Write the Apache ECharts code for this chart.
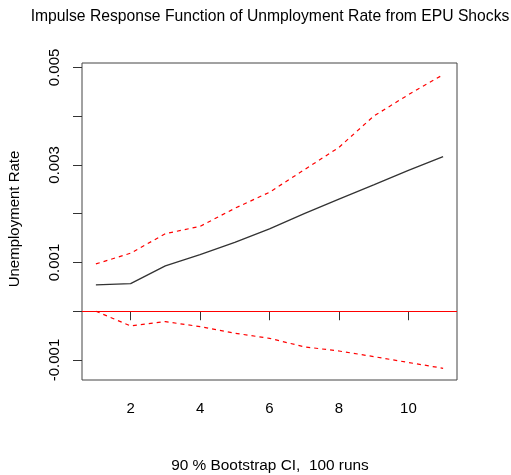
<!DOCTYPE html>
<html>
<head>
<meta charset="utf-8">
<script src="https://cdn.jsdelivr.net/npm/echarts@6/dist/echarts.min.js"></script>
<style>html,body{margin:0;padding:0;background:#fff}#c{width:511px;height:475px}</style>
</head>
<body>
<div id="c"></div>
<script>
const horizon = [1, 2, 3, 4, 5, 6, 7, 8, 9, 10, 11];
const irf   = [0.00054, 0.000567, 0.00093, 0.00116, 0.00141, 0.00169, 0.0020, 0.0023, 0.00259, 0.00289, 0.00317];
const upper = [0.00097, 0.00119, 0.00159, 0.00174, 0.00211, 0.00244, 0.0029, 0.00336, 0.0040, 0.00444, 0.00485];
const lower = [0.0, -0.000302, -0.000213, -0.000316, -0.00045, -0.000555, -0.00073, -0.000815, -0.00093, -0.00105, -0.00117];
const xTicks = [2, 4, 6, 8, 10];
const yTicks = [-0.001, 0, 0.001, 0.002, 0.003, 0.004, 0.005];
const yLabels = [-0.001, 0.001, 0.003, 0.005];
const titleText = 'Impulse Response Function of Unmployment Rate from EPU Shocks';
const yName = 'Unemployment Rate';
const subText = '90 % Bootstrap CI,  100 runs';

const pair = arr => horizon.map((h, i) => [h, arr[i]]);
const font = 'Liberation Sans, Arial, sans-serif';
const chart = echarts.init(document.getElementById('c'));
chart.setOption({
  animation: false,
  backgroundColor: '#fff',
  grid: { left: 82, top: 63, right: 54, bottom: 95, show: true, borderColor: '#444', borderWidth: 1 },
  graphic: [
    { type: 'text', x: 270, y: 17, style: { text: titleText, font: '15.7px ' + font, fill: '#000', align: 'center', verticalAlign: 'middle' } },
    { type: 'text', x: 270, y: 466, style: { text: subText, font: '15.4px ' + font, fill: '#000', align: 'center', verticalAlign: 'middle' } },
    { type: 'text', x: 15, y: 219, rotation: Math.PI / 2, style: { text: yName, font: '15px ' + font, fill: '#000', align: 'center', verticalAlign: 'middle' } }
  ],
  xAxis: {
    type: 'value', min: 0.6, max: 11.4,
    axisLine: { show: false },
    splitLine: { show: false },
    axisTick: { show: true, customValues: xTicks, length: 9, lineStyle: { color: '#333' } },
    axisLabel: { customValues: xTicks, margin: 21, fontSize: 15, fontFamily: font, color: '#000' }
  },
  yAxis: {
    type: 'value', min: -0.00141, max: 0.00509,
    axisLine: { show: false },
    splitLine: { show: false },
    axisTick: { show: true, customValues: yTicks, length: 9, lineStyle: { color: '#333' } },
    axisLabel: { customValues: yLabels, rotate: 90, margin: 20, fontSize: 15, fontFamily: font, color: '#000',
      formatter: v => v.toFixed(3) }
  },
  series: [
    { type: 'line', data: pair(irf), showSymbol: false, lineStyle: { color: '#333', width: 1.3 }, z: 3 },
    { type: 'line', data: pair(upper), showSymbol: false, lineStyle: { color: '#ff0000', width: 1.2, type: [4, 4] } },
    { type: 'line', data: pair(lower), showSymbol: false, lineStyle: { color: '#ff0000', width: 1.2, type: [4, 4] },
      markLine: { silent: true, symbol: 'none', label: { show: false }, lineStyle: { color: '#ff0000', type: 'solid', width: 1.2 },
        data: [{ yAxis: 0 }] } }
  ]
});
</script>
</body>
</html>
